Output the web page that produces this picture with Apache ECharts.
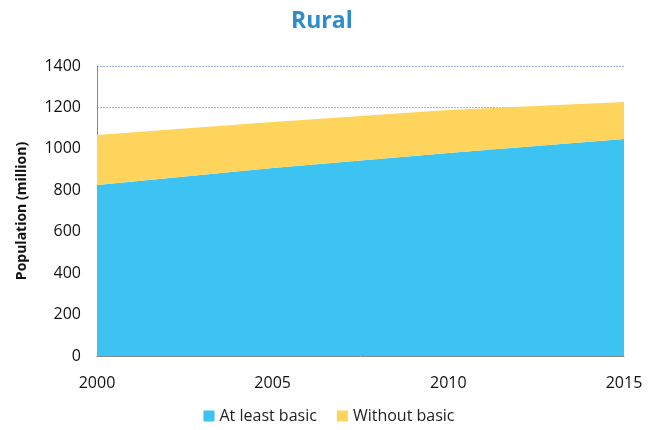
<!DOCTYPE html>
<html><head><meta charset="utf-8">
<script src="https://cdn.jsdelivr.net/npm/echarts@6/dist/echarts.min.js"></script>
<style>html,body{margin:0;padding:0;background:#fff}#c{width:658px;height:430px}</style>
</head><body><div id="c"></div>
<script>
const years = ['2000', '2005', '2010', '2015'];
const atLeastBasic = [825, 908, 980, 1048];
const withoutBasic = [242, 222, 208, 178];

const chart = echarts.init(document.getElementById('c'));
const font = 'Open Sans, Liberation Sans, sans-serif';
chart.setOption({
  animation: false,
  title: { text: 'Rural', left: 286, top: 5, textStyle: { color: '#2b8ccf', fontSize: 23, fontWeight: 'bold', fontFamily: font } },
  legend: { bottom: 1, left: 'center', itemWidth: 11, itemHeight: 11, itemGap: 20, icon: 'rect',
    textStyle: { fontSize: 16, color: '#222', fontFamily: font } },
  grid: { left: 97, right: 34, top: 66, bottom: 74 },
  xAxis: { type: 'category', data: years, boundaryGap: false,
    axisLine: { lineStyle: { color: '#888' } }, axisTick: { show: false }, splitLine: { show: false },
    axisLabel: { fontSize: 16, color: '#111', margin: 19, fontFamily: font } },
  yAxis: { type: 'value', min: 0, max: 1400, interval: 200,
    name: 'Population (million)', nameLocation: 'middle', nameGap: 68, nameRotate: 90,
    nameTextStyle: { fontSize: 14, fontWeight: 'bold', color: '#111', fontFamily: font },
    axisLine: { show: true, lineStyle: { color: '#888' } }, axisTick: { show: false },
    axisLabel: { fontSize: 16, color: '#111', margin: 16, fontFamily: font, formatter: v => String(v) },
    splitLine: { lineStyle: { type: [2, 1], color: '#9db6e6', width: 1 } } },
  series: [
    { name: 'At least basic', type: 'line', stack: 't', symbol: 'none', lineStyle: { width: 0 },
      areaStyle: { color: '#3dc3f1', opacity: 1 }, itemStyle: { color: '#3dc3f1' },
      data: atLeastBasic },
    { name: 'Without basic', type: 'line', stack: 't', symbol: 'none', lineStyle: { width: 0 },
      areaStyle: { color: '#ffd45c', opacity: 1 }, itemStyle: { color: '#ffd45c' },
      data: withoutBasic }
  ]
});
</script></body></html>
